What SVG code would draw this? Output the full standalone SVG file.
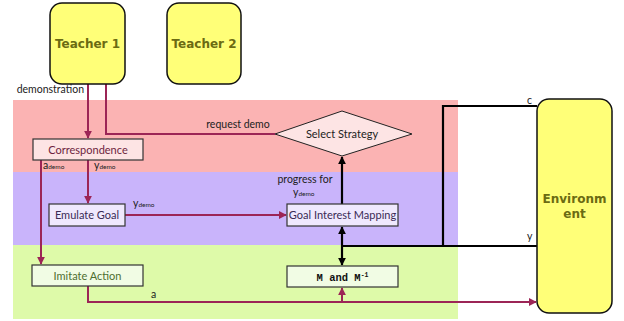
<svg xmlns="http://www.w3.org/2000/svg" width="624" height="321" viewBox="0 0 624 321">
<style>
.yel{fill:#ffff78;stroke:#111;stroke-width:1.5}
.ytx{font-family:"DejaVu Sans",sans-serif;font-weight:bold;font-size:12px;fill:#6b6b12;text-anchor:middle}
.box{stroke:#333;stroke-width:1.2}
.lbl{font-family:Lato,"Open Sans",sans-serif;font-size:11px;text-anchor:middle}
.m{fill:none;stroke:#9c2556;stroke-width:2}
.k{fill:none;stroke:#000;stroke-width:2.2}
.sm{font-family:Lato,"Open Sans",sans-serif;font-size:10.5px;fill:#222}
</style>
<defs>
<marker id="am" viewBox="0 0 10 10" refX="9" refY="5" markerWidth="8" markerHeight="8" orient="auto-start-reverse" markerUnits="userSpaceOnUse"><path d="M0,0 L10,5 L0,10 z" fill="#9c2556"/></marker>
<marker id="ak" viewBox="0 0 10 10" refX="9" refY="5" markerWidth="8" markerHeight="8" orient="auto-start-reverse" markerUnits="userSpaceOnUse"><path d="M0,0 L10,5 L0,10 z" fill="#000"/></marker>
</defs>
<rect x="13" y="100" width="445" height="72" fill="#fbb3b3"/>
<rect x="13" y="172" width="445" height="73" fill="#c9b4fb"/>
<rect x="13" y="245" width="445" height="74" fill="#defaa9"/>
<g id="connectors">
<path class="m" d="M88,84 V138" marker-end="url(#am)"/>
<path class="m" d="M106,84 V134 H275"/>
<path class="m" d="M41,160 V264" marker-end="url(#am)"/>
<path class="m" d="M88,160 V203" marker-end="url(#am)"/>
<path class="m" d="M125,215 H286" marker-end="url(#am)"/>
<path class="m" d="M88,286 V302 H536" marker-end="url(#am)"/>
<path class="m" d="M342,302 V288" marker-end="url(#am)"/>
<path class="k" d="M342,204 V157" marker-end="url(#ak)"/>
<path class="k" d="M342,227 V265" marker-start="url(#ak)" marker-end="url(#ak)"/>
<path class="k" d="M537,106 H443 V246"/>
<path class="k" d="M342,246 H537"/>
</g>
<g id="teacher1"><rect class="yel" x="50" y="3" width="75" height="81" rx="12"/><text class="ytx" x="87.5" y="48">Teacher 1</text></g>
<g id="teacher2"><rect class="yel" x="167" y="3" width="74" height="81" rx="12"/><text class="ytx" x="204" y="48">Teacher 2</text></g>
<g id="environment"><rect class="yel" x="537" y="99" width="75" height="214" rx="12"/><text class="ytx" x="574.5" y="203">Environm</text><text class="ytx" x="574.5" y="218">ent</text></g>
<g id="correspondence"><rect class="box" x="33" y="139" width="110" height="21" fill="#fde4e4"/><text class="lbl" x="88" y="153.5" fill="#6e1f3e">Correspondence</text></g>
<g id="select-strategy"><polygon points="275,134 342,111 412,134 342,156" fill="#fde4e4" stroke="#222" stroke-width="1"/><text class="lbl" x="342" y="138" fill="#222">Select Strategy</text></g>
<g id="emulate-goal"><rect class="box" x="49" y="204" width="76" height="22" fill="#efe8fd"/><text class="lbl" x="87" y="219" fill="#3a2a55">Emulate Goal</text></g>
<g id="goal-interest-mapping"><rect class="box" x="287" y="204" width="111" height="22" fill="#efe8fd"/><text class="lbl" x="342.5" y="219" fill="#3a2a55">Goal Interest Mapping</text></g>
<g id="imitate-action"><rect class="box" x="32" y="265" width="111" height="21" fill="#f1fce4"/><text class="lbl" x="87.5" y="279.5" fill="#4e6e30">Imitate Action</text></g>
<g id="m-box"><rect class="box" x="287" y="266" width="111" height="21" fill="#f1fce4"/><text x="342.5" y="280.5" font-family="'Liberation Mono',monospace" font-weight="bold" font-size="10.5" text-anchor="middle" fill="#111">M and M<tspan dy="-4" font-size="6.5">-1</tspan></text></g>
<g id="labels">
<text class="sm" x="84" y="93" text-anchor="end">demonstration</text>
<text class="sm" x="238" y="128" text-anchor="middle">request demo</text>
<text class="sm" x="43" y="169" font-size="11">a<tspan font-size="6.5">demo</tspan></text>
<text class="sm" x="94" y="169" font-size="11">y<tspan font-size="6.5">demo</tspan></text>
<text class="sm" x="133" y="207" font-size="11">y<tspan font-size="6.5">demo</tspan></text>
<text class="sm" x="305" y="183" text-anchor="middle">progress for</text>
<text class="sm" x="293" y="196" font-size="11">y<tspan font-size="6.5">demo</tspan></text>
<text class="sm" x="151" y="298">a</text>
<text class="sm" x="527" y="104">c</text>
<text class="sm" x="527" y="240">y</text>
</g>
</svg>
